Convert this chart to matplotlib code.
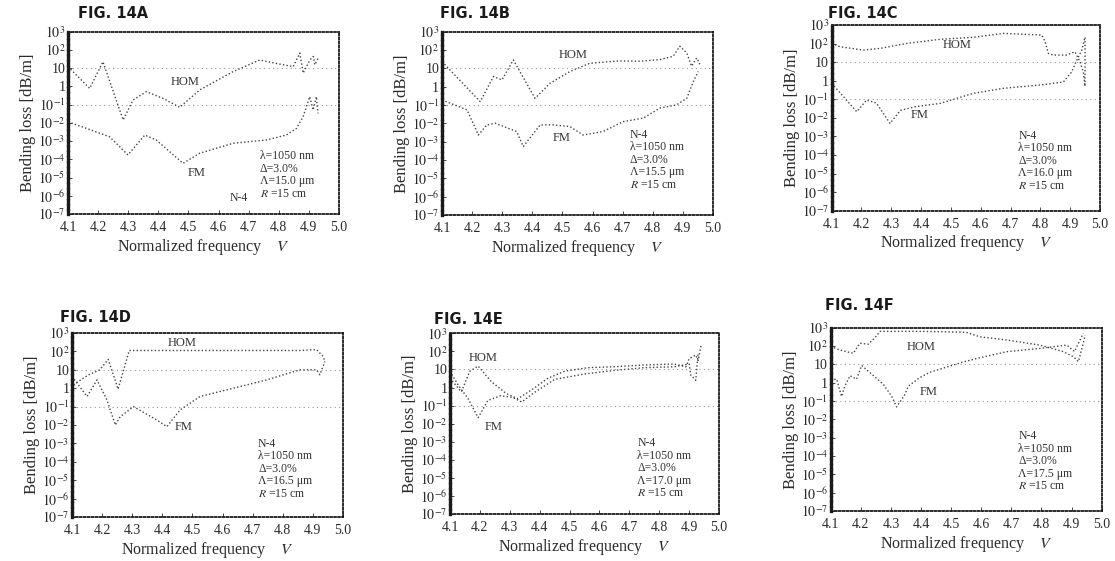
import numpy as np
import matplotlib
matplotlib.use("Agg")
import matplotlib.pyplot as plt
from matplotlib.ticker import FixedLocator, NullLocator

plt.rcParams['font.family'] = ['Liberation Serif', 'DejaVu Serif']
plt.rcParams['mathtext.fontset'] = 'stix'

# values: V (normalized frequency) and log10(bending loss in dB/m)
a_v_hom = [4.10, 4.172, 4.216, 4.283, 4.316, 4.36, 4.416, 4.471, 4.537, 4.648, 4.737, 4.792, 4.848, 4.87, 4.881, 4.904, 4.915, 4.92, 4.931]
a_hom = [1.08, -0.11, 1.35, -1.84, -0.75, -0.29, -0.66, -1.15, -0.2, 0.81, 1.45, 1.26, 1.08, 1.83, 0.73, 1.46, 1.64, 1.19, 1.55]
a_v_fm = [4.10, 4.238, 4.299, 4.355, 4.393, 4.482, 4.537, 4.648, 4.759, 4.825, 4.859, 4.881, 4.903, 4.914, 4.925, 4.93]
a_fm = [-1.94, -2.76, -3.76, -2.67, -2.94, -4.22, -3.67, -3.12, -2.94, -2.67, -2.3, -1.66, -0.56, -1.3, -0.56, -1.48]

b_v_hom = [4.10, 4.227, 4.271, 4.299, 4.337, 4.409, 4.459, 4.525, 4.591, 4.69, 4.758, 4.824, 4.868, 4.89, 4.913, 4.929, 4.946, 4.957]
b_hom = [1.36, -0.82, 0.55, 0.36, 1.45, -0.64, 0.18, 0.82, 1.27, 1.4, 1.38, 1.47, 1.65, 2.2, 1.84, 1.11, 1.56, 1.2]
b_v_fm = [4.10, 4.183, 4.221, 4.249, 4.277, 4.348, 4.37, 4.426, 4.47, 4.525, 4.569, 4.635, 4.702, 4.769, 4.824, 4.879, 4.913, 4.935, 4.951]
b_fm = [-0.73, -1.27, -2.64, -2.09, -2.0, -2.45, -3.27, -2.09, -2.09, -2.18, -2.64, -2.45, -1.91, -1.72, -1.17, -1.0, -0.64, 0.27, 0.82]

c_v_hom = [4.10, 4.128, 4.206, 4.262, 4.352, 4.464, 4.575, 4.676, 4.805, 4.816, 4.827, 4.843, 4.888, 4.916, 4.933, 4.944, 4.95, 4.95]
c_hom = [2.01, 1.83, 1.65, 1.74, 2.01, 2.23, 2.34, 2.55, 2.46, 2.1, 1.47, 1.38, 1.38, 1.56, 1.02, 0.48, -0.3, 2.4]
c_v_fm = [4.10, 4.184, 4.217, 4.25, 4.296, 4.33, 4.38, 4.464, 4.575, 4.676, 4.8, 4.877, 4.905, 4.922, 4.939, 4.95]
c_fm = [-0.14, -1.67, -1.04, -1.2, -2.3, -1.6, -1.4, -1.22, -0.68, -0.41, -0.23, -0.07, 0.47, 1.1, 1.64, 2.35]

d_v_hom = [4.10, 4.109, 4.153, 4.192, 4.22, 4.253, 4.29, 4.30, 4.60, 4.86, 4.912, 4.934, 4.94]
d_hom = [0.0, 0.24, 0.71, 1.0, 1.57, -0.05, 2.05, 2.05, 2.05, 2.05, 2.1, 1.73, 1.45]
d_v_fm = [4.10, 4.15, 4.183, 4.216, 4.244, 4.26, 4.304, 4.382, 4.415, 4.459, 4.525, 4.636, 4.746, 4.857, 4.912, 4.923, 4.94]
d_fm = [0.64, -0.45, 0.45, -0.64, -2.0, -1.55, -1.0, -1.73, -2.09, -1.18, -0.45, 0.0, 0.45, 1.0, 1.0, 0.73, 1.45]

e_v_hom = [4.10, 4.138, 4.166, 4.194, 4.238, 4.288, 4.327, 4.372, 4.428, 4.483, 4.561, 4.65, 4.75, 4.85, 4.889, 4.90, 4.922, 4.93, 4.94]
e_hom = [0.52, -0.24, 0.9, 1.19, 0.33, -0.33, -0.62, -0.14, 0.52, 0.9, 1.1, 1.15, 1.25, 1.3, 1.15, 1.6, 1.8, 1.5, 2.35]
e_v_fm = [4.10, 4.127, 4.16, 4.194, 4.227, 4.27, 4.31, 4.34, 4.38, 4.45, 4.55, 4.65, 4.75, 4.85, 4.90, 4.905, 4.922, 4.93]
e_fm = [0.9, 0.14, -0.6, -1.67, -0.71, -0.45, -0.55, -0.8, -0.3, 0.45, 0.75, 0.95, 1.1, 1.15, 1.3, 0.7, 0.4, 1.9]

f_v_hom = [4.10, 4.131, 4.175, 4.197, 4.225, 4.247, 4.264, 4.40, 4.55, 4.596, 4.685, 4.795, 4.873, 4.906, 4.923, 4.939, 4.945]
f_hom = [1.98, 1.78, 1.6, 2.15, 2.1, 2.45, 2.8, 2.8, 2.75, 2.5, 2.33, 2.05, 1.69, 1.42, 1.15, 2.15, 2.6]
f_v_fm = [4.10, 4.12, 4.136, 4.147, 4.164, 4.186, 4.203, 4.236, 4.275, 4.303, 4.319, 4.346, 4.358, 4.396, 4.43, 4.485, 4.541, 4.585, 4.685, 4.795, 4.884, 4.91, 4.939]
f_fm = [0.15, 0.19, -0.75, -0.19, 0.38, 0.19, 0.94, 0.47, -0.09, -0.75, -1.32, -0.66, -0.19, 0.28, 0.57, 0.85, 1.13, 1.32, 1.69, 1.87, 2.05, 1.7, 2.69]

titles = ["FIG. 14A", "FIG. 14B", "FIG. 14C", "FIG. 14D", "FIG. 14E", "FIG. 14F"]
lambda_pitch = ["15.0", "15.5", "16.0", "16.5", "17.0", "17.5"]
x_ticks = [4.1, 4.2, 4.3, 4.4, 4.5, 4.6, 4.7, 4.8, 4.9, 5.0]
y_ticks = [1e-7, 1e-6, 1e-5, 1e-4, 1e-3, 1e-2, 1e-1, 1, 10, 1e2, 1e3]
y_labels = [r'$10^{-7}$', r'$10^{-6}$', r'$10^{-5}$', r'$10^{-4}$', r'$10^{-3}$',
            r'$10^{-2}$', r'$10^{-1}$', '1', '10', r'$10^{2}$', r'$10^{3}$']

# label positions (V, log10 loss)
hom_pos = [(4.488, 0.26), (4.536, 1.73), (4.52, 1.92), (4.464, 2.45), (4.212, 1.62), (4.402, 1.96)]
fm_pos = [(4.526, -4.77), (4.497, -2.82), (4.396, -1.85), (4.47, -2.09), (4.245, -2.17), (4.424, -0.49)]
param_pos = [(4.737, -3.5), (4.724, -2.3), (4.726, -2.65), (4.718, -2.7), (4.726, -2.75), (4.723, -2.6)]

panels = [
    (a_v_hom, a_hom, a_v_fm, a_fm),
    (b_v_hom, b_hom, b_v_fm, b_fm),
    (c_v_hom, c_hom, c_v_fm, c_fm),
    (d_v_hom, d_hom, d_v_fm, d_fm),
    (e_v_hom, e_hom, e_v_fm, e_fm),
    (f_v_hom, f_hom, f_v_fm, f_fm),
]
# axes rectangles in figure fraction
rects = [
    (0.061, 0.6185, 0.243, 0.325),
    (0.3964, 0.6168, 0.243, 0.327),
    (0.7459, 0.6244, 0.2406, 0.331),
    (0.0646, 0.0784, 0.243, 0.328),
    (0.4036, 0.0838, 0.2413, 0.322),
    (0.745, 0.0891, 0.243, 0.3268),
]
title_xy = [(78, 14), (440, 14), (828, 14), (60, 318), (434, 319), (825, 306)]

fig = plt.figure(figsize=(11.15, 5.61), dpi=100)
dash = (0, (1, 1.6))
ink = '#2a2a2a'
for i, (vh, hh, vf, ff) in enumerate(panels):
    ax = fig.add_axes(rects[i])
    ax.set_yscale('log')
    for g in [10, 0.1]:
        ax.axhline(g, color='#9a9a9a', lw=0.8, linestyle=(0, (1, 3)), zorder=1)
    ax.plot(vh, np.power(10.0, hh), color='#444444', lw=1.0, linestyle=dash, zorder=2)
    ax.plot(vf, np.power(10.0, ff), color='#444444', lw=1.0, linestyle=dash, zorder=2)
    ax.set_xlim(4.1, 5.0)
    ax.set_ylim(1e-7, 1e3)
    ax.xaxis.set_major_locator(FixedLocator(x_ticks))
    ax.set_xticklabels(['%.1f' % v for v in x_ticks])
    ax.yaxis.set_major_locator(FixedLocator(y_ticks))
    ax.yaxis.set_minor_locator(NullLocator())
    ax.set_yticklabels(y_labels)
    ax.tick_params(direction='in', length=3, width=0.6, labelsize=10, pad=2, colors=ink)
    ax.tick_params(axis='x', pad=5)
    for side in ['top', 'right', 'bottom']:
        ax.spines[side].set_linestyle((0, (1, 1.2)))
        ax.spines[side].set_linewidth(1.3)
        ax.spines[side].set_color('#1a1a1a')
    ax.spines['left'].set_linestyle((0, (1, 0.6)))
    ax.spines['left'].set_linewidth(2.4)
    ax.spines['left'].set_color('#1a1a1a')
    ax.set_xlabel(r'Normalized frequency    $V$', fontsize=11.5, labelpad=2, color=ink)
    ax.set_ylabel('Bending loss [dB/m]', fontsize=12, labelpad=1, color=ink)

    ax.text(hom_pos[i][0], 10 ** hom_pos[i][1], 'HOM', fontsize=9, ha='center', va='center', color='#333333')
    ax.text(fm_pos[i][0], 10 ** fm_pos[i][1], 'FM', fontsize=9, ha='center', va='center', color='#333333')
    lines = ['\u03bb=1050 nm', '\u0394=3.0%', '\u039b=' + lambda_pitch[i] + ' \u03bcm', r'$R$ =15 cm']
    if i == 0:
        ax.text(param_pos[i][0], 10 ** param_pos[i][1], '\n'.join(lines), fontsize=8.5, ha='left', va='top',
                linespacing=1.05, color='#333333')
        ax.text(4.637, 10 ** -6.1, 'N-4', fontsize=8.5, ha='left', va='center', color='#333333')
    else:
        ax.text(param_pos[i][0], 10 ** param_pos[i][1], '\n'.join(['N-4'] + lines), fontsize=8.5, ha='left', va='top',
                linespacing=1.05, color='#333333')

    fig.text(title_xy[i][0] / 1115, 1 - title_xy[i][1] / 561, titles[i], fontsize=10.5, fontweight='bold',
             family='DejaVu Sans', ha='left', va='center', color='#1a1a1a')

fig.savefig('out.png', dpi=100)
